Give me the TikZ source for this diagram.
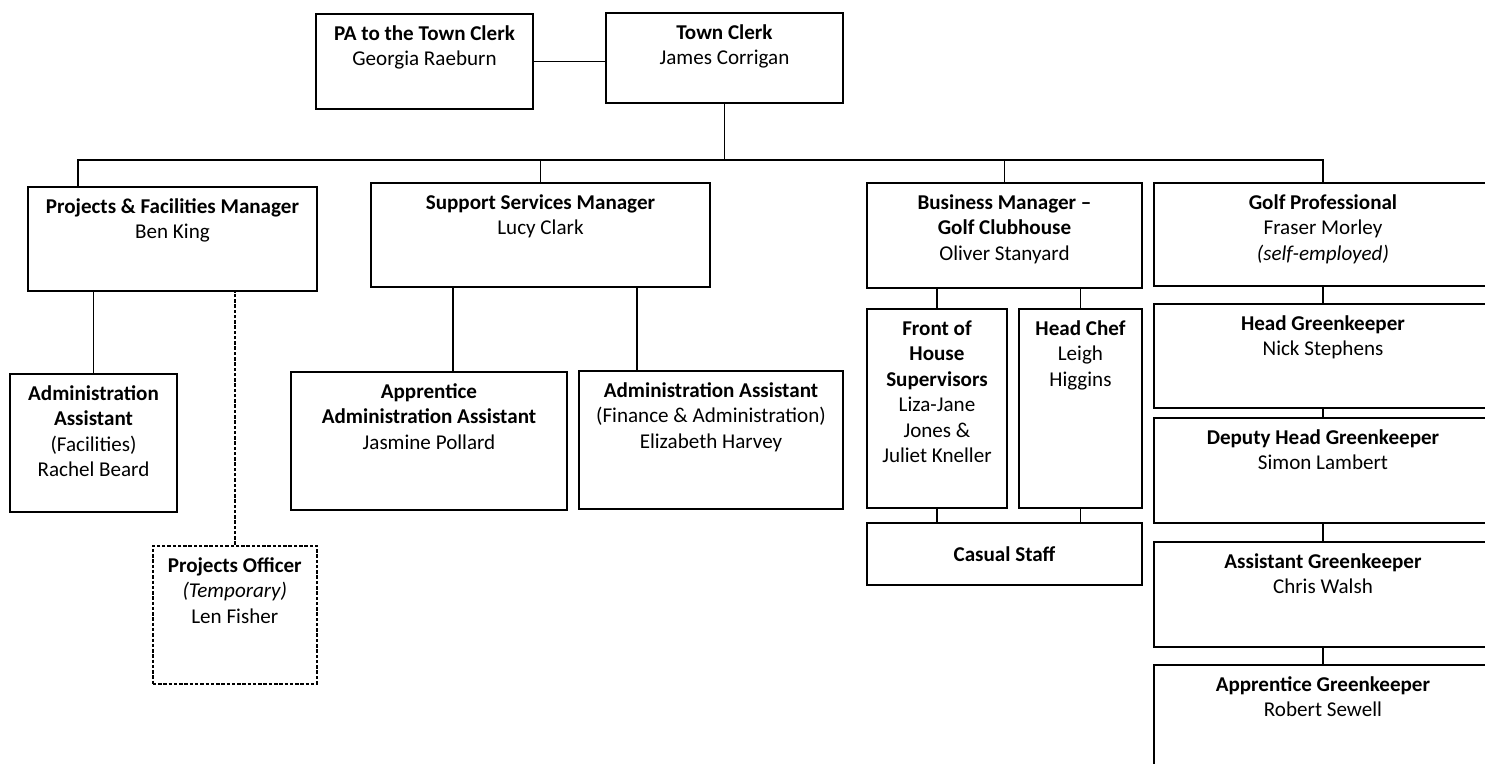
\documentclass[tikz,border=0pt]{standalone}
\usepackage{fontspec}
\setmainfont{Carlito}
\usetikzlibrary{positioning}
\newcommand{\px}{0.02cm}

\begin{document}
\begin{tikzpicture}[x=0.02cm, y=-0.02cm, font=\fontsize{12}{14.5}\selectfont]
  \tikzset{
    org_box/.style 2 args={
      draw, line width=1.1pt, anchor=north west, inner sep=0pt,
      minimum width=#1*\px, minimum height=#2*\px
    },
    temp_box/.style 2 args={org_box={#1}{#2}, dash pattern=on 2pt off 1pt, line width=0.9pt},
    box_text/.style={anchor=north, align=center, inner sep=0pt, yshift=-7pt},
    link/.style={line width=1pt},
    temp_link/.style={line width=0.9pt, dash pattern=on 2pt off 1pt}
  }
  \useasboundingbox (0,0) rectangle (1485,764);
  \clip (0,0) rectangle (1485,764);

  % Top of the chart
  \node[org_box={217}{95}, label={[box_text]north:{\textbf{PA to the Town Clerk}\\Georgia Raeburn}}] (pa) at (315,13) {};
  \node[org_box={237}{90}, label={[box_text]north:{\textbf{Town Clerk}\\James Corrigan}}] (tc) at (605,12) {};
  \draw[link] (pa.east) -- (pa.east -| tc.west);

  % Managers on the first row
  \node[org_box={289}{104}, label={[box_text]north:{\textbf{Projects \& Facilities Manager}\\Ben King}}] (pfm) at (27,186) {};
  \node[org_box={339}{104}, label={[box_text]north:{\textbf{Support Services Manager}\\Lucy Clark}}] (ssm) at (370,182) {};
  \node[org_box={275}{105}, label={[box_text]north:{\textbf{Business Manager –}\\\textbf{Golf Clubhouse}\\Oliver Stanyard}}] (bm) at (866,182) {};
  \node[org_box={338}{103}, label={[box_text]north:{\textbf{Golf Professional}\\Fraser Morley\\\textit{(self-employed)}}}] (gp) at (1153,182) {};

  % Bus line under the Town Clerk
  \coordinate (bus_l) at (78,160);
  \coordinate (bus_r) at (gp.north |- bus_l);
  \draw[link] (tc.south) -- (tc.south |- bus_l);
  \draw[link] (bus_l |- pfm.north) -- (bus_l) -- (bus_r) -- (gp.north);
  \foreach \m in {ssm, bm}
    \draw[link] (\m.north) -- (\m.north |- bus_l);

  % Projects & Facilities team
  \node[org_box={167}{138}, label={[box_text]north:{\textbf{Administration}\\\textbf{Assistant}\\(Facilities)\\Rachel Beard}}] (aaf) at (9,373) {};
  \node[temp_box={164}{138}, label={[box_text]north:{\textbf{Projects Officer}\\\textit{(Temporary)}\\Len Fisher}}] (po) at (152,545) {};
  \draw[link] (aaf.north) -- (aaf.north |- pfm.south);
  \draw[temp_link] (po.north) -- (po.north |- pfm.south);

  % Support Services team
  \node[org_box={276}{138}, label={[box_text]north:{\textbf{Apprentice}\\\textbf{Administration Assistant}\\Jasmine Pollard}}] (aaa) at (290,371) {};
  \node[org_box={264}{138}, label={[box_text]north:{\textbf{Administration Assistant}\\(Finance \& Administration)\\Elizabeth Harvey}}] (aafa) at (578,370) {};
  \draw[link] ([xshift=24*\px]aaa.north) -- ([xshift=24*\px]aaa.north |- ssm.south);
  \draw[link] ([xshift=-74*\px]aafa.north) -- ([xshift=-74*\px]aafa.north |- ssm.south);

  % Golf Clubhouse team
  \node[org_box={140}{199}, label={[box_text]north:{\textbf{Front of}\\\textbf{House}\\\textbf{Supervisors}\\Liza-Jane\\Jones \&\\Juliet Kneller}}] (foh) at (866,308) {};
  \node[org_box={123}{199}, label={[box_text]north:{\textbf{Head Chef}\\Leigh\\Higgins}}] (hc) at (1018,308) {};
  \node[org_box={275}{62}, label={[box_text, yshift=-12*\px]north:{\textbf{Casual Staff}}}] (cs) at (866,522) {};
  \foreach \s in {foh, hc} {
    \draw[link] (\s.north) -- (\s.north |- bm.south);
    \draw[link] (\s.south) -- (\s.south |- cs.north);
  }

  % Greenkeeping chain under the Golf Professional
  \foreach \n/\y/\h/\t/\p in {hg/303/104/Head Greenkeeper/Nick Stephens,
      dhg/417/105/Deputy Head Greenkeeper/Simon Lambert,
      ag/541/105/Assistant Greenkeeper/Chris Walsh,
      apg/664/106/Apprentice Greenkeeper/Robert Sewell}
    \node[org_box={338}{\h}, label={[box_text]north:{\textbf{\t}\\\p}}] (\n) at (1153,\y) {};
  \foreach \a/\b in {gp/hg, hg/dhg, dhg/ag, ag/apg}
    \draw[link] (\a.south) -- (\b.north);

\end{tikzpicture}
\end{document}
